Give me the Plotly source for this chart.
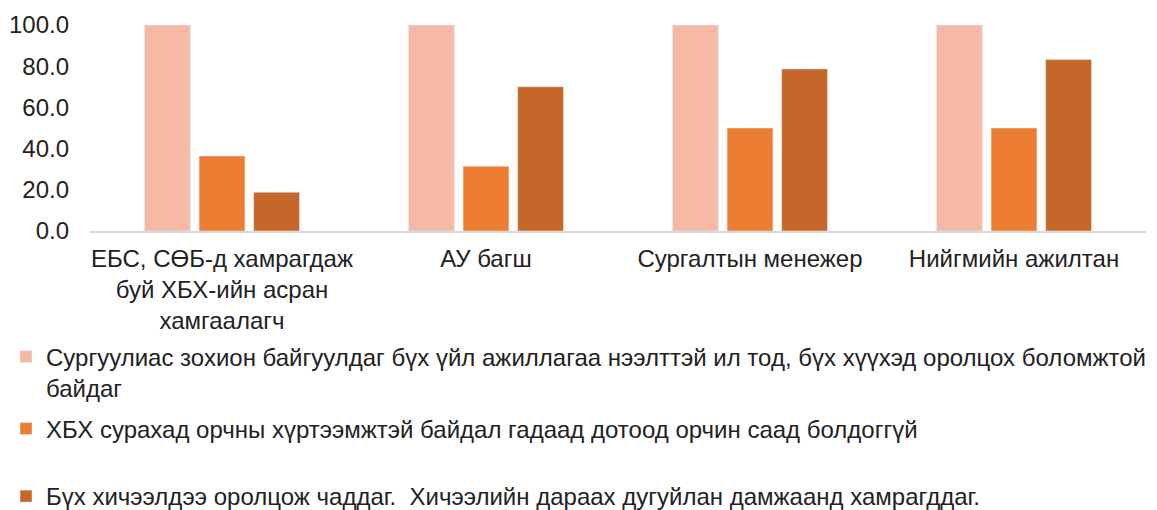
import plotly.graph_objects as go

categories = ["ЕБС, СӨБ-д хамрагдаж<br>буй ХБХ-ийн асран<br>хамгаалагч", "АУ багш", "Сургалтын менежер", "Нийгмийн ажилтан"]
series_names = [
    "Сургуулиас зохион байгуулдаг бүх үйл ажиллагаа нээлттэй ил тод, бүх хүүхэд оролцох боломжтой<br>байдаг",
    "ХБХ сурахад орчны хүртээмжтэй байдал гадаад дотоод орчин саад болдоггүй",
    "Бүх хичээлдээ оролцож чаддаг.  Хичээлийн дараах дугуйлан дамжаанд хамрагддаг.",
]
s1 = [100.0, 100.0, 100.0, 100.0]
s2 = [36.4, 31.4, 50.0, 50.0]
s3 = [18.8, 70.0, 78.7, 83.2]
colors = ["#F5B9A6", "#ED7D31", "#C5672A"]

W, H = 1157, 510
FS = 24
font_family = "Liberation Sans, Arial, sans-serif"
fig = go.Figure()
legends = ["legend", "legend2", "legend3"]
for name, vals, c, lg in zip(series_names, [s1, s2, s3], colors, legends):
    fig.add_trace(go.Bar(x=categories, y=vals, name=name, marker_color=c, legend=lg))

leg_common = dict(x=6 / W, xanchor="left", yanchor="middle", valign="top", visible=True,
                  font=dict(family=font_family, size=FS, color="#222"), bgcolor="rgba(0,0,0,0)",
                  itemwidth=30)
fig.update_layout(
    width=W, height=H,
    margin=dict(l=0, r=0, t=0, b=0, autoexpand=False),
    showlegend=True,
    paper_bgcolor="white", plot_bgcolor="white",
    barmode="group", bargap=0.38, bargroupgap=0.16,
    font=dict(family=font_family, size=FS, color="#222"),
    legend=dict(**leg_common, y=1 - 372.5 / H),
    legend2=dict(**leg_common, y=1 - 429 / H),
    legend3=dict(**leg_common, y=1 - 496.5 / H),
    xaxis=dict(domain=[90 / W, 1146 / W], showline=True, linecolor="#D9D9D9", linewidth=2,
               ticks="", tickangle=0, tickfont=dict(size=FS), automargin=False,
               ticklabelstandoff=5),
    yaxis=dict(domain=[1 - 231 / H, 1 - 25 / H], range=[0, 100], dtick=20, tickformat=".1f",
               showgrid=False, zeroline=False, showline=False, tickfont=dict(size=FS),
               ticklabelstandoff=20, automargin=False),
)
fig.write_html("out.html", config={"displayModeBar": False},
               post_script="document.body.style.margin='0';document.body.style.overflow='hidden';")
